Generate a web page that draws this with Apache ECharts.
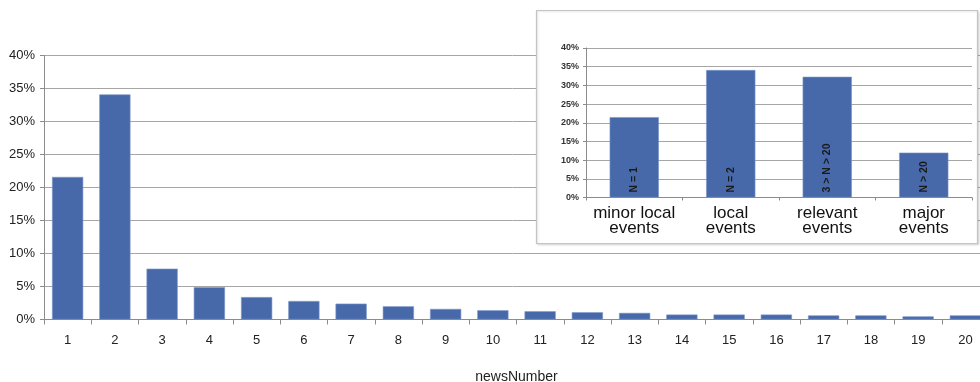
<!DOCTYPE html>
<html>
<head>
<meta charset="utf-8">
<script src="https://cdn.jsdelivr.net/npm/echarts@6/dist/echarts.min.js"></script>
<style>
  html, body { margin: 0; padding: 0; background: #fff; }
  #chart { width: 980px; height: 382px; }
</style>
</head>
<body>
<div id="chart"></div>
<script>
// Share of items by number of news (percent)
const newsNumbers = ['1', '2', '3', '4', '5', '6', '7', '8', '9', '10',
                     '11', '12', '13', '14', '15', '16', '17', '18', '19', '20'];
const newsShare = [21.6, 34.1, 7.7, 4.9, 3.4, 2.8, 2.4, 2.0, 1.6, 1.4,
                   1.25, 1.1, 1.0, 0.75, 0.75, 0.75, 0.62, 0.62, 0.47, 0.62];

// Grouped event classes
const eventClasses = ['minor local\nevents', 'local\nevents', 'relevant\nevents', 'major\nevents'];
const eventShare = [21.5, 34.1, 32.3, 12.0];
const eventRanges = ['N = 1', 'N = 2', '3 > N > 20', 'N > 20'];

// Tick labels
const yTicksMain = { min: 0, max: 40, interval: 5 };
const yTicksInset = { min: 0, max: 40, interval: 5 };

const BAR = '#4769aa';
const GRID = '#a6a6a6';
const AXIS = '#8c8c8c';
const FONT = 'Liberation Sans, Arial, sans-serif';

const chart = echarts.init(document.getElementById('chart'), null, { renderer: 'canvas' });

chart.setOption({
  animation: false,
  backgroundColor: '#fff',
  textStyle: { fontFamily: FONT },
  grid: [
    { left: 44, right: -9, top: 55.5, bottom: 62.5, outerBoundsMode: 'none', containLabel: false },
    { left: 586, right: 8, top: 48, bottom: 184.5, z: 11, outerBoundsMode: 'none', containLabel: false }
  ],
  graphic: [{
    type: 'rect',
    z: 10,
    shape: { x: 536.5, y: 10.5, width: 441, height: 233 },
    style: {
      fill: '#fff',
      stroke: '#c4c4c4',
      lineWidth: 1.2,
      shadowColor: 'rgba(0,0,0,0.12)',
      shadowBlur: 2,
      shadowOffsetX: 1,
      shadowOffsetY: 1
    }
  }],
  xAxis: [
    {
      gridIndex: 0,
      type: 'category',
      data: newsNumbers,
      name: 'newsNumber',
      nameLocation: 'middle',
      nameGap: 51,
      nameTextStyle: { fontSize: 14, color: '#222', fontFamily: FONT },
      axisLine: { lineStyle: { color: AXIS, width: 1 } },
      axisTick: { show: true, alignWithLabel: false, length: 5, lineStyle: { color: AXIS } },
      axisLabel: { fontSize: 13, color: '#222', margin: 14, interval: 0 },
      splitLine: { show: false }
    },
    {
      gridIndex: 1,
      type: 'category',
      data: eventClasses,
      z: 11,
      axisLine: { lineStyle: { color: AXIS, width: 1 } },
      axisTick: { show: true, length: 3, lineStyle: { color: AXIS } },
      axisLabel: { fontSize: 17, lineHeight: 15, color: '#111', margin: 8, interval: 0 },
      splitLine: { show: false }
    }
  ],
  yAxis: [
    {
      gridIndex: 0,
      type: 'value',
      min: yTicksMain.min,
      max: yTicksMain.max,
      interval: yTicksMain.interval,
      axisLine: { show: true, lineStyle: { color: AXIS, width: 1 } },
      axisTick: { show: true, length: 4, lineStyle: { color: AXIS } },
      axisLabel: { fontSize: 13, color: '#222', margin: 9, formatter: '{value}%' },
      splitLine: { show: true, lineStyle: { color: GRID, width: 1 } }
    },
    {
      gridIndex: 1,
      type: 'value',
      min: yTicksInset.min,
      max: yTicksInset.max,
      interval: yTicksInset.interval,
      z: 11,
      axisLine: { show: true, lineStyle: { color: AXIS, width: 1 } },
      axisTick: { show: true, length: 3, lineStyle: { color: AXIS } },
      axisLabel: { fontSize: 9, fontWeight: 'bold', color: '#333', margin: 7, formatter: '{value}%' },
      splitLine: { show: true, lineStyle: { color: GRID, width: 1 } }
    }
  ],
  series: [
    {
      type: 'bar',
      xAxisIndex: 0,
      yAxisIndex: 0,
      data: newsShare,
      barCategoryGap: '34%',
      itemStyle: { color: BAR, borderColor: '#7b96cb', borderWidth: 0.6 },
      z: 2
    },
    {
      type: 'bar',
      xAxisIndex: 1,
      yAxisIndex: 1,
      data: eventShare,
      barCategoryGap: '49%',
      z: 12,
      itemStyle: { color: BAR, borderColor: '#7b96cb', borderWidth: 0.6 },
      label: {
        show: true,
        position: 'insideBottom',
        rotate: 90,
        align: 'left',
        verticalAlign: 'middle',
        distance: 5,
        fontSize: 10.5,
        fontWeight: 'bold',
        color: '#1a1a1a',
        formatter: (p) => eventRanges[p.dataIndex]
      }
    }
  ]
});
</script>
</body>
</html>
